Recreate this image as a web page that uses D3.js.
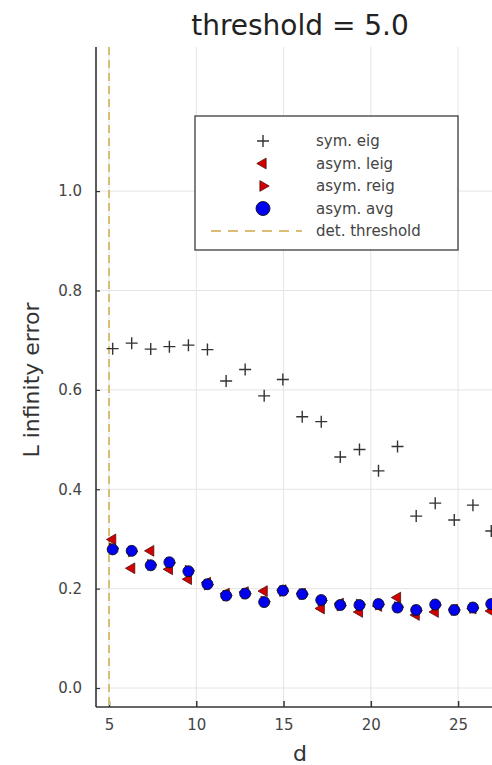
<!DOCTYPE html>
<html>
<head>
<meta charset="utf-8">
<script src="https://cdn.jsdelivr.net/npm/d3@7"></script>
<style>
  body { margin: 0; background: #fff; }
  svg text { font-family: "DejaVu Sans", sans-serif; fill: #333; }
</style>
</head>
<body>
<div id="chart"></div>
<script>
  // data
  var dims = [5.21, 6.30, 7.39, 8.46, 9.55, 10.64, 11.71, 12.80, 13.89, 14.96, 16.07,
              17.16, 18.25, 19.35, 20.44, 21.53, 22.60, 23.69, 24.78, 25.85, 26.90];
  var symEig = [0.683, 0.694, 0.682, 0.687, 0.690, 0.681, 0.618, 0.641, 0.588, 0.621, 0.546,
                0.536, 0.465, 0.480, 0.437, 0.486, 0.346, 0.372, 0.338, 0.368, 0.316];
  var asymLeig = [0.299, 0.241, 0.276, 0.239, 0.219, 0.212, 0.190, 0.193, 0.195, 0.197, 0.190,
                  0.160, 0.170, 0.153, 0.165, 0.182, 0.147, 0.153, 0.158, 0.160, 0.155];
  var asymReig = [0.281, 0.275, 0.248, 0.252, 0.236, 0.208, 0.186, 0.190, 0.174, 0.195, 0.189,
                  0.176, 0.166, 0.168, 0.168, 0.163, 0.156, 0.167, 0.157, 0.161, 0.168];
  var asymAvg = [0.279, 0.276, 0.247, 0.253, 0.235, 0.209, 0.186, 0.190, 0.173, 0.196, 0.189,
                 0.177, 0.167, 0.167, 0.169, 0.162, 0.157, 0.168, 0.157, 0.162, 0.169];
  var xTicks = [5, 10, 15, 20, 25];
  var yTicks = [0.0, 0.2, 0.4, 0.6, 0.8, 1.0];
  var threshold = 5.0;
  var legendLabels = ["sym. eig", "asym. leig", "asym. reig", "asym. avg", "det. threshold"];

  var width = 492, height = 765;
  var plot = { left: 96, right: 541, top: 47, bottom: 707 };

  var svg = d3.select("#chart").append("svg")
      .attr("width", width)
      .attr("height", height);

  var x = d3.scaleLinear().domain([4.255, 29.75]).range([plot.left, plot.right]);
  var y = d3.scaleLinear().domain([-0.0382, 1.290]).range([plot.bottom, plot.top]);

  ///////////////////////////////////////////////
  // grid
  ///////////////////////////////////////////////
  svg.append("g").selectAll("line")
      .data(xTicks)
      .enter().append("line")
        .attr("x1", function(d) { return x(d); })
        .attr("x2", function(d) { return x(d); })
        .attr("y1", plot.top)
        .attr("y2", plot.bottom)
        .style("stroke", "#e4e4e4")
        .style("stroke-width", 1);

  svg.append("g").selectAll("line")
      .data(yTicks)
      .enter().append("line")
        .attr("x1", plot.left)
        .attr("x2", plot.right)
        .attr("y1", function(d) { return y(d); })
        .attr("y2", function(d) { return y(d); })
        .style("stroke", "#e4e4e4")
        .style("stroke-width", 1);

  ///////////////////////////////////////////////
  // axes (ticks point inward)
  ///////////////////////////////////////////////
  var xAxis = svg.append("g")
      .attr("transform", "translate(0," + plot.bottom + ")")
      .call(d3.axisBottom(x).tickValues(xTicks).tickSize(-6).tickPadding(12)
              .tickFormat(d3.format("d")));
  xAxis.select(".domain").remove();
  xAxis.selectAll(".tick line").style("stroke", "#333").style("stroke-width", 1.5);
  xAxis.selectAll("text").style("font-size", "15px").style("fill", "#444");

  var yAxis = svg.append("g")
      .attr("transform", "translate(" + plot.left + ",0)")
      .call(d3.axisLeft(y).tickValues(yTicks).tickSize(-4).tickPadding(14)
              .tickFormat(d3.format(".1f")));
  yAxis.select(".domain").remove();
  yAxis.selectAll(".tick line").style("stroke", "#333").style("stroke-width", 1.2);
  yAxis.selectAll("text").style("font-size", "15px").style("fill", "#444");

  svg.append("line")
      .attr("x1", plot.left).attr("x2", plot.right)
      .attr("y1", plot.bottom).attr("y2", plot.bottom)
      .style("stroke", "#333").style("stroke-width", 1.6);
  svg.append("line")
      .attr("x1", plot.left).attr("x2", plot.left)
      .attr("y1", plot.top).attr("y2", plot.bottom)
      .style("stroke", "#333").style("stroke-width", 1.6);

  // threshold line
  svg.append("line")
      .attr("x1", x(threshold)).attr("x2", x(threshold))
      .attr("y1", plot.top).attr("y2", plot.bottom)
      .style("stroke", "#d8bd72")
      .style("stroke-width", 2)
      .style("stroke-dasharray", "8,5");

  ///////////////////////////////////////////////
  // markers
  ///////////////////////////////////////////////
  var plusPath = "M-6,0H6M0,-6V6";
  var triangle = d3.symbol().type(d3.symbolTriangle).size(50)();

  function series(values) {
    return values.map(function(v, i) { return { x: dims[i], y: v }; });
  }

  svg.append("g").selectAll("path")
      .data(series(symEig))
      .enter().append("path")
        .attr("d", plusPath)
        .attr("transform", function(d) { return "translate(" + x(d.x) + "," + y(d.y) + ")"; })
        .style("stroke", "#333")
        .style("stroke-width", 1.4)
        .style("fill", "none");

  svg.append("g").selectAll("path")
      .data(series(asymLeig))
      .enter().append("path")
        .attr("d", triangle)
        .attr("transform", function(d) { return "translate(" + x(d.x) + "," + y(d.y) + ")rotate(-90)"; })
        .style("fill", "#d40000")
        .style("stroke", "#4a1010")
        .style("stroke-width", 0.8);

  svg.append("g").selectAll("path")
      .data(series(asymReig))
      .enter().append("path")
        .attr("d", triangle)
        .attr("transform", function(d) { return "translate(" + x(d.x) + "," + y(d.y) + ")rotate(90)"; })
        .style("fill", "#d40000")
        .style("stroke", "#4a1010")
        .style("stroke-width", 0.8);

  svg.append("g").selectAll("circle")
      .data(series(asymAvg))
      .enter().append("circle")
        .attr("cx", function(d) { return x(d.x); })
        .attr("cy", function(d) { return y(d.y); })
        .attr("r", 5.5)
        .style("fill", "#0000f0")
        .style("stroke", "#111")
        .style("stroke-width", 0.9);

  ///////////////////////////////////////////////
  // legend
  ///////////////////////////////////////////////
  var legend = svg.append("g");
  legend.append("rect")
      .attr("x", 195).attr("y", 116)
      .attr("width", 263).attr("height", 134)
      .style("fill", "#fff")
      .style("stroke", "#555")
      .style("stroke-width", 1.5);

  var rowY = d3.scalePoint().domain(legendLabels).range([141, 231]);
  var mx = 263;

  legend.append("path").attr("d", plusPath)
      .attr("transform", "translate(" + mx + "," + rowY(legendLabels[0]) + ")")
      .style("stroke", "#333").style("stroke-width", 1.4).style("fill", "none");
  legend.append("path").attr("d", triangle)
      .attr("transform", "translate(" + mx + "," + rowY(legendLabels[1]) + ")rotate(-90)")
      .style("fill", "#d40000").style("stroke", "#4a1010").style("stroke-width", 0.8);
  legend.append("path").attr("d", triangle)
      .attr("transform", "translate(" + mx + "," + rowY(legendLabels[2]) + ")rotate(90)")
      .style("fill", "#d40000").style("stroke", "#4a1010").style("stroke-width", 0.8);
  legend.append("circle")
      .attr("cx", mx).attr("cy", rowY(legendLabels[3])).attr("r", 7)
      .style("fill", "#0000f0").style("stroke", "#111").style("stroke-width", 0.9);
  legend.append("line")
      .attr("x1", 211).attr("x2", 302)
      .attr("y1", rowY(legendLabels[4])).attr("y2", rowY(legendLabels[4]))
      .style("stroke", "#d8bd72").style("stroke-width", 2).style("stroke-dasharray", "10,7");

  legend.selectAll("text")
      .data(legendLabels)
      .enter().append("text")
        .attr("x", 316)
        .attr("y", function(d) { return rowY(d); })
        .attr("dy", "0.35em")
        .style("font-size", "15px")
        .style("fill", "#444")
        .text(function(d) { return d; });

  ///////////////////////////////////////////////
  // titles
  ///////////////////////////////////////////////
  svg.append("text")
      .attr("x", 300).attr("y", 35)
      .style("text-anchor", "middle")
      .style("font-size", "28px")
      .style("fill", "#222")
      .text("threshold = " + threshold.toFixed(1));

  svg.append("text")
      .attr("x", 300).attr("y", 761)
      .style("text-anchor", "middle")
      .style("font-size", "22px")
      .text("d");

  svg.append("text")
      .attr("transform", "translate(39,380)rotate(-90)")
      .style("text-anchor", "middle")
      .style("font-size", "22px")
      .text("L infinity error");
</script>
</body>
</html>
